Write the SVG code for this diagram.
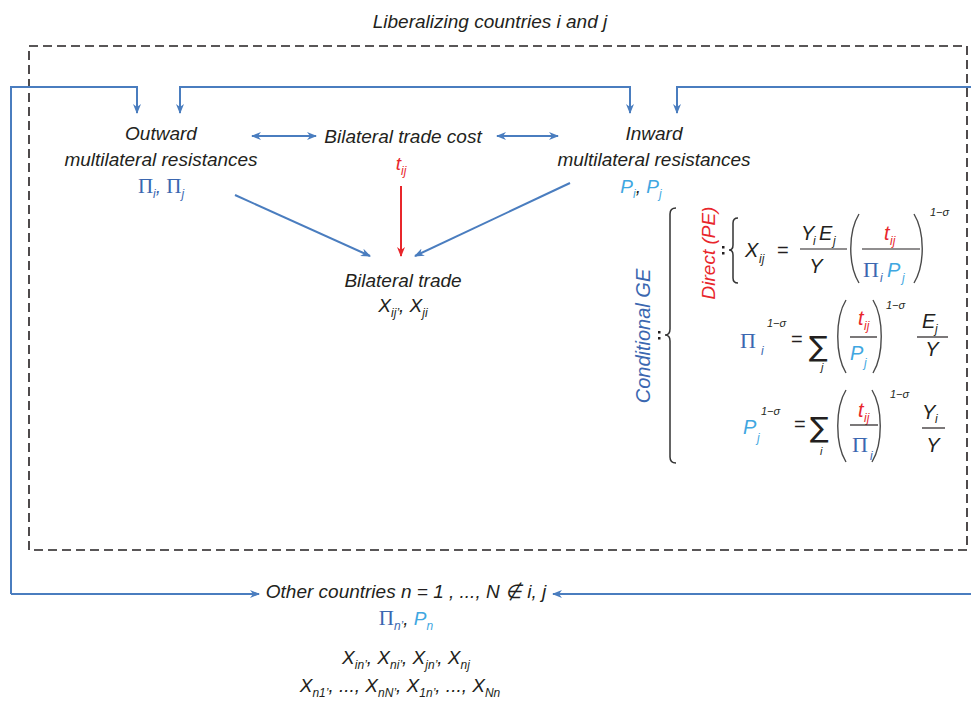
<svg xmlns="http://www.w3.org/2000/svg" width="971" height="706" viewBox="0 0 971 706">
<style>
text{font-family:"Liberation Sans",Arial,sans-serif;font-style:italic;fill:#231f20;}
.t{font-size:19px;}
.sub{font-size:12px;}
.sup{font-size:11px;}
.pi{font-family:"Liberation Serif","Times New Roman",serif;font-style:normal;fill:#3b67b0;}
.sig{font-family:"DejaVu Sans",sans-serif;font-style:normal;font-size:28px;}
.blue{fill:#3b67b0;}
.lb{fill:#3fa7e1;}
.red{fill:#e8262b;}
.conn{fill:none;stroke:#4a7dbf;stroke-width:2;}
.redc{fill:none;stroke:#e8262b;stroke-width:2;}
.par{fill:none;stroke:#4a4a4a;stroke-width:1.4;}
.frac{stroke:#231f20;stroke-width:1.2;}
.brace{fill:none;stroke:#333;stroke-width:1.5;}
</style>
<defs>
<marker id="ab" viewBox="0 0 10 8" refX="9" refY="4" markerWidth="10" markerHeight="8" markerUnits="userSpaceOnUse" orient="auto-start-reverse">
<path d="M0,0 L10,4 L0,8 L3,4 z" fill="#4a7dbf"/>
</marker>
<marker id="ar" viewBox="0 0 10 8" refX="9" refY="4" markerWidth="10" markerHeight="8" markerUnits="userSpaceOnUse" orient="auto-start-reverse">
<path d="M0,0 L10,4 L0,8 L3,4 z" fill="#e8262b"/>
</marker>
</defs>
<rect width="971" height="706" fill="#fff"/>

<g id="title">
<text class="t" x="490" y="28" text-anchor="middle">Liberalizing countries i and j</text>
</g>
<g id="box">
<rect x="29" y="46" width="938" height="504" fill="none" stroke="#231f20" stroke-width="1.6" stroke-dasharray="9 5"/>
</g>

<g id="connectors">
<path class="conn" d="M11,594 L11,87 L137,87 L137,113" marker-end="url(#ab)"/>
<path class="conn" d="M11,594 L259,594" marker-end="url(#ab)"/>
<path class="conn" d="M180,113 L180,87 L630,87 L630,113" marker-start="url(#ab)" marker-end="url(#ab)"/>
<path class="conn" d="M971,87 L677,87 L677,113" marker-end="url(#ab)"/>
<path class="conn" d="M971,594 L553,594" marker-end="url(#ab)"/>
<path class="conn" d="M252,136 L316,136" marker-start="url(#ab)" marker-end="url(#ab)"/>
<path class="conn" d="M497,136 L558,136" marker-start="url(#ab)" marker-end="url(#ab)"/>
<path class="conn" d="M235,195 L370,256" marker-end="url(#ab)"/>
<path class="conn" d="M570,183 L415,256" marker-end="url(#ab)"/>
<path class="redc" d="M401,186 L401,256" marker-end="url(#ar)"/>
</g>

<g id="outward">
<text class="t" x="161" y="140" text-anchor="middle">Outward</text>
<text class="t" x="161" y="166" text-anchor="middle">multilateral resistances</text>
<text x="161" y="193" text-anchor="middle"><tspan class="pi" font-size="21">Π</tspan><tspan class="sub blue" dy="5">i</tspan><tspan class="t blue" dy="-5">, </tspan><tspan class="pi" font-size="21">Π</tspan><tspan class="sub blue" dy="5">j</tspan></text>
</g>

<g id="cost">
<text class="t" x="403" y="143" text-anchor="middle">Bilateral trade cost</text>
<text x="401" y="170" text-anchor="middle"><tspan class="t red">t</tspan><tspan class="sub red" dy="5">ij</tspan></text>
</g>

<g id="inward">
<text class="t" x="654" y="140" text-anchor="middle">Inward</text>
<text class="t" x="654" y="166" text-anchor="middle">multilateral resistances</text>
<text x="641" y="193" text-anchor="middle"><tspan class="t lb">P</tspan><tspan class="sub lb" dy="5">i</tspan><tspan class="t" dy="-5">, </tspan><tspan class="t lb">P</tspan><tspan class="sub lb" dy="5">j</tspan></text>
</g>

<g id="trade">
<text class="t" x="403" y="287" text-anchor="middle">Bilateral trade</text>
<text x="403" y="312" text-anchor="middle"><tspan class="t">X</tspan><tspan class="sub" dy="5">ij’</tspan><tspan class="t" dy="-5">, X</tspan><tspan class="sub" dy="5">ji</tspan></text>
</g>

<g id="conditional">
<text class="blue" transform="translate(650,336) rotate(-90)" text-anchor="middle" style="font-size:20px">Conditional GE</text>
<path class="brace" d="M676,208 Q670,208 670,214 L670,329 Q670,335 665,335 Q670,335 670,341 L670,457 Q670,463 676,463"/>
<rect x="658" y="331" width="2.5" height="2.5" fill="#231f20"/>
<rect x="658" y="337" width="2.5" height="2.5" fill="#231f20"/>
</g>

<g id="direct">
<text class="t red" transform="translate(715,253) rotate(-90)" text-anchor="middle">Direct (PE)</text>
<path class="brace" d="M738,218 Q733,218 733,223 L733,245 Q733,250 729,250 Q733,250 733,255 L733,278 Q733,283 738,283"/>
<rect x="722" y="246" width="2.5" height="2.5" fill="#231f20"/>
<rect x="722" y="252" width="2.5" height="2.5" fill="#231f20"/>
</g>

<g id="eq1">
<text x="745" y="257" font-size="20">X</text>
<text class="sub" x="759" y="263">ij</text>
<text x="777" y="257" font-size="20" style="font-style:normal">=</text>
<text x="801" y="240" font-size="20">Y</text>
<text class="sub" x="813" y="245">i</text>
<text x="819" y="240" font-size="20">E</text>
<text class="sub" x="833" y="245">j</text>
<line class="frac" x1="800" y1="249" x2="847" y2="249"/>
<text x="816" y="273" font-size="20" text-anchor="middle">Y</text>
<path class="par" d="M859,214 C848,232 848,265 859,283"/>
<text class="red" x="884" y="240" font-size="20">t</text>
<text class="sub red" x="890" y="245">ij</text>
<line class="frac" x1="862" y1="249" x2="920" y2="249"/>
<text class="pi" x="863" y="277" font-size="22">Π</text>
<text class="sub blue" x="880" y="282">i</text>
<text class="lb" x="887" y="277" font-size="20">P</text>
<text class="sub lb" x="902" y="282">j</text>
<path class="par" d="M914,214 C925,232 925,265 914,283"/>
<text class="sup" x="930" y="216">1−σ</text>
</g>

<g id="eq2">
<text class="pi" x="740" y="348" font-size="22">Π</text>
<text class="sub blue" x="761" y="355">i</text>
<text class="sup" x="767" y="327">1−σ</text>
<text x="791" y="346" font-size="20" style="font-style:normal">=</text>
<text class="sig" x="809" y="356">∑</text>
<text class="sup" x="821" y="371">j</text>
<path class="par" d="M846,300 C835,318 835,355 846,373"/>
<text class="red" x="858" y="325" font-size="20">t</text>
<text class="sub red" x="864" y="330">ij</text>
<line class="frac" x1="850" y1="337" x2="877" y2="337"/>
<text class="lb" x="850" y="360" font-size="20">P</text>
<text class="sub lb" x="864" y="367">j</text>
<path class="par" d="M873,300 C884,318 884,355 873,373"/>
<text class="sup" x="886" y="309">1−σ</text>
<text x="922" y="328" font-size="20">E</text>
<text class="sub" x="935" y="333">j</text>
<line class="frac" x1="917" y1="337" x2="948" y2="337"/>
<text x="932" y="356" font-size="20" text-anchor="middle">Y</text>
</g>

<g id="eq3">
<text class="lb" x="743" y="434" font-size="20">P</text>
<text class="sub lb" x="757" y="442">j</text>
<text class="sup" x="761" y="415">1−σ</text>
<text x="794" y="431" font-size="20" style="font-style:normal">=</text>
<text class="sig" x="810" y="437">∑</text>
<text class="sup" x="820" y="455">i</text>
<path class="par" d="M846,390 C835,408 835,444 846,462"/>
<text class="red" x="858" y="417" font-size="20">t</text>
<text class="sub red" x="864" y="422">ij</text>
<line class="frac" x1="850" y1="425" x2="878" y2="425"/>
<text class="pi" x="852" y="452" font-size="22">Π</text>
<text class="sub blue" x="870" y="460">i</text>
<path class="par" d="M872,390 C883,408 883,444 872,462"/>
<text class="sup" x="890" y="398">1−σ</text>
<text x="922" y="419" font-size="20">Y</text>
<text class="sub" x="935" y="423">i</text>
<line class="frac" x1="922" y1="428" x2="945" y2="428"/>
<text x="933" y="452" font-size="20" text-anchor="middle">Y</text>
</g>

<g id="others">
<text class="t" x="406" y="598" text-anchor="middle">Other countries n = 1 , ..., N ∉ i, j</text>
<text x="406" y="625" text-anchor="middle"><tspan class="pi" font-size="21">Π</tspan><tspan class="sub blue" dy="5">n’</tspan><tspan class="t" dy="-5">, </tspan><tspan class="t lb">P</tspan><tspan class="sub lb" dy="5">n</tspan></text>
<text x="406" y="664" text-anchor="middle"><tspan class="t">X</tspan><tspan class="sub" dy="5">in’</tspan><tspan class="t" dy="-5">, X</tspan><tspan class="sub" dy="5">ni’</tspan><tspan class="t" dy="-5">, X</tspan><tspan class="sub" dy="5">jn’</tspan><tspan class="t" dy="-5">, X</tspan><tspan class="sub" dy="5">nj</tspan></text>
<text x="400" y="692" text-anchor="middle"><tspan class="t">X</tspan><tspan class="sub" dy="5">n1’</tspan><tspan class="t" dy="-5">, ..., X</tspan><tspan class="sub" dy="5">nN’</tspan><tspan class="t" dy="-5">, X</tspan><tspan class="sub" dy="5">1n’</tspan><tspan class="t" dy="-5">, ..., X</tspan><tspan class="sub" dy="5">Nn</tspan></text>
</g>
</svg>
